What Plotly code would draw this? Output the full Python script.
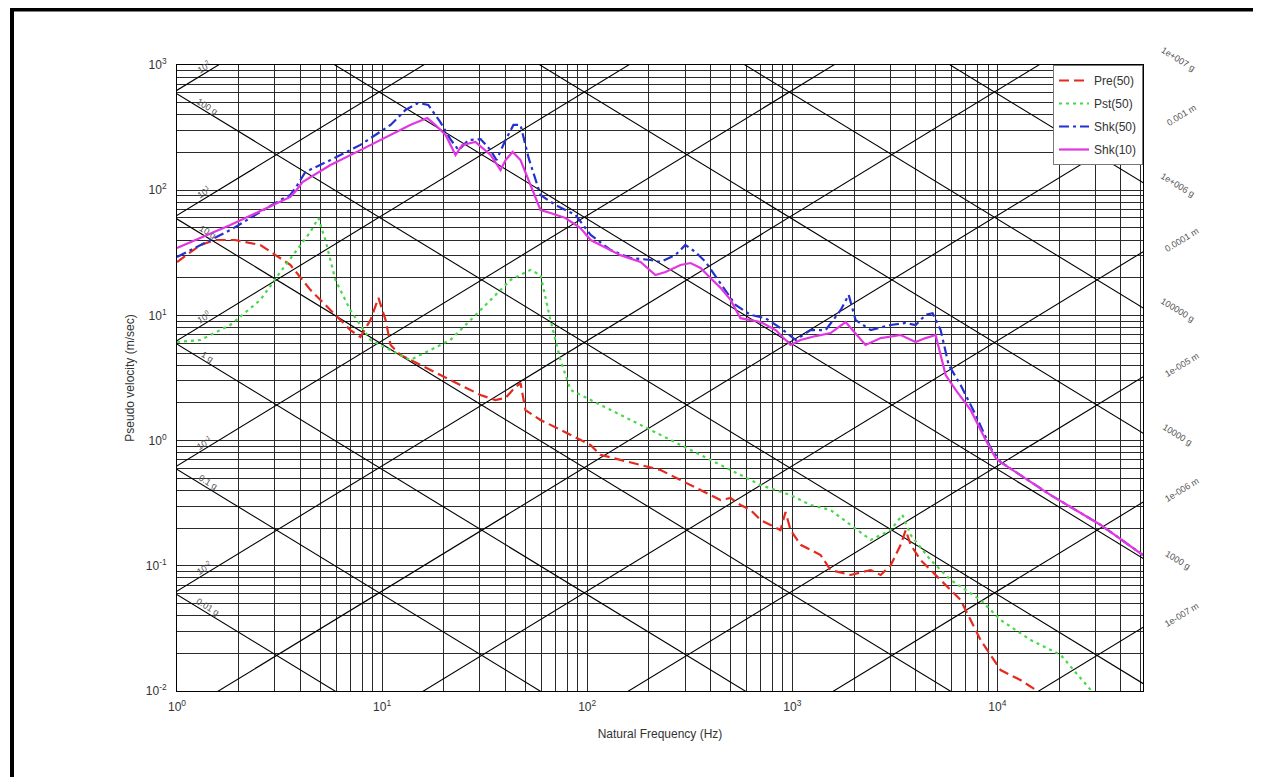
import numpy as np
import plotly.graph_objects as go

# ---------------- data ----------------
PRE_F = [1.0, 1.30, 1.54, 1.92, 2.55, 3.57, 4.47, 5.0, 6.26, 7.0, 7.84, 8.77, 9.6, 10.4, 11.0, 12.3,
         15.4, 19.2, 24.1, 30.2, 35.7, 40, 43.3, 47.3, 50, 59.2, 74.1, 92.7, 104, 116, 145, 182, 228,
         285, 357, 399, 447, 500, 559, 626, 700, 783, 876, 927, 981, 1097, 1374, 1537, 1924, 2411,
         2698, 3019, 3377, 3573, 3778, 4228, 5288, 6620, 8283, 9268, 10370, 13000, 15380]
PRE_V = [26.7, 36.5, 40, 40, 36.5, 25.3, 16.0, 13.3, 9.18, 7.64, 6.72, 9.18, 13.8, 9.18, 5.80, 4.83,
         4.02, 3.34, 2.78, 2.31, 2.11, 2.19, 2.54, 2.89, 1.75, 1.46, 1.22, 1.01, 0.92, 0.77, 0.70, 0.638,
         0.582, 0.484, 0.403, 0.367, 0.335, 0.348, 0.306, 0.279, 0.232, 0.212, 0.193, 0.269, 0.193,
         0.147, 0.122, 0.0925, 0.0845, 0.0925, 0.0845, 0.101, 0.147, 0.193, 0.147, 0.111, 0.0771,
         0.0533, 0.0255, 0.0194, 0.0147, 0.0122, 0.0102]

PST_F = [1.0, 1.30, 1.82, 2.55, 3.19, 4.0, 4.47, 4.89, 5.29, 5.92, 7.0, 8.77, 11.0, 13.7, 17.2, 21.5,
         27.0, 33.8, 42.3, 52.9, 59.2, 66.2, 74.1, 83, 104, 130, 163, 204, 255, 319, 399, 500, 700,
         981, 1228, 1537, 1924, 2411, 3019, 3443, 3778, 4729, 5918, 8283, 10370, 14550, 20370, 28500]
PST_V = [6.13, 6.36, 8.38, 13.3, 22.2, 36.5, 46.4, 60, 40, 19.2, 11.0, 6.36, 5.29, 4.40, 5.29, 6.36,
         9.18, 13.3, 19.2, 23.1, 21.0, 9.18, 4.40, 2.54, 2.11, 1.75, 1.46, 1.22, 1.01, 0.841, 0.70,
         0.582, 0.442, 0.367, 0.306, 0.279, 0.212, 0.161, 0.193, 0.255, 0.176, 0.111, 0.0771, 0.0533,
         0.0369, 0.0255, 0.0194, 0.0102]

SHK50_F = [1.0, 1.82, 3.19, 3.57, 3.86, 4.23, 5.6, 7.84, 11.0, 13.0, 15.0, 16.8, 19.2, 21.5, 23.6, 26.4,
           30.2, 33.8, 36.1, 40, 43.7, 47.3, 51.8, 59.2, 70.0, 87.7, 104, 130, 163, 204, 228, 269, 301,
           337, 378, 447, 529, 626, 740, 876, 1038, 1228, 1455, 1720, 1884, 2036, 2411, 3019, 3573,
           3993, 4467, 4833, 5288, 5786, 6620, 7836, 9268, 10370, 18200, 31900, 51200]
SHK50_V = [29.3, 48.1, 83.5, 91.6, 110, 140, 174, 230, 332, 437, 497, 480, 351, 256, 209, 252, 256, 209,
           174, 252, 332, 332, 181, 91.6, 76.2, 63.4, 43.9, 33.3, 28.7, 27.7, 26.7, 30.3, 36.5, 32.1,
           26.7, 18.2, 12.1, 10.1, 9.5, 7.93, 6.36, 7.64, 7.64, 11.0, 14.6, 9.18, 7.64, 8.38, 8.7, 8.38,
           10.1, 10.4, 7.64, 4.02, 2.78, 1.60, 0.873, 0.674, 0.367, 0.212, 0.122]

SHK10_F = [1.0, 1.82, 3.57, 3.82, 4.09, 5.6, 7.84, 11.0, 13.7, 16.6, 18.2, 20.4, 22.8, 24.6, 28.5, 33.8,
           37.8, 40, 43.3, 47.3, 52.9, 59.2, 66.2, 78.3, 92.7, 104, 116, 145, 182, 215, 241, 285, 319,
           357, 399, 447, 500, 559, 700, 830, 981, 1097, 1300, 1537, 1820, 1968, 2275, 2698, 3377, 3993,
           4467, 5000, 5594, 6260, 7413, 8770, 9814, 10370, 18200, 31900, 51200]
SHK10_V = [34.5, 52.7, 88.3, 100, 116, 159, 209, 276, 332, 377, 332, 276, 191, 230, 243, 191, 145, 174,
           202, 174, 110, 69.5, 65.8, 60, 49.9, 40, 36.5, 30.3, 26.7, 21.0, 22.2, 25.3, 26.2, 23.9, 19.9,
           16.6, 13.3, 9.5, 8.85, 7.64, 5.80, 6.36, 6.84, 7.23, 8.85, 7.64, 5.80, 6.59, 6.97, 6.13, 6.59,
           6.97, 3.34, 2.54, 1.75, 1.01, 0.726, 0.674, 0.367, 0.212, 0.122]

SERIES_NAMES = ["Pre(50)", "Pst(50)", "Shk(50)", "Shk(10)"]

X_TICKS = [1, 10, 100, 1000, 10000]
X_TICK_TEXT = ["10<sup>0</sup>", "10<sup>1</sup>", "10<sup>2</sup>", "10<sup>3</sup>", "10<sup>4</sup>"]
Y_TICKS = [0.01, 0.1, 1, 10, 100, 1000]
Y_TICK_TEXT = ["10<sup>-2</sup>", "10<sup>-1</sup>", "10<sup>0</sup>", "10<sup>1</sup>",
               "10<sup>2</sup>", "10<sup>3</sup>"]

# tripartite diagonals: constant displacement (m) and constant acceleration levels
DISP_EXP = [-7, -6, -5, -4, -3, -2, -1, 0, 1, 2]
ACC_EXP = [-2, -1, 0, 1, 2, 3, 4, 5, 6]
ACC_OFFSET = 0.77  # log10 offset of acceleration family

LEFT_DISP_LABELS = {2: "10<sup>2</sup>", 1: "10<sup>1</sup>", 0: "10<sup>0</sup>",
                    -1: "10<sup>-1</sup>", -2: "10<sup>-2</sup>"}
LEFT_ACC_LABELS = {2: "100 g", 1: "10 g", 0: "1 g", -1: "0.1 g", -2: "0.01 g"}
RIGHT_DISP_LABELS = {-3: "0.001 m", -4: "0.0001 m", -5: "1e-005 m", -6: "1e-006 m", -7: "1e-007 m"}
RIGHT_ACC_LABELS = {7: "1e+007 g", 6: "1e+006 g", 5: "100000 g", 4: "10000 g", 3: "1000 g"}

X_RANGE_LOG = [0, 4.71]
Y_RANGE_LOG = [-2, 3]

fig = go.Figure()

fline = np.array([0.3, 2e5])
for k in DISP_EXP:
    fig.add_trace(go.Scatter(x=fline, y=2 * np.pi * fline * 10.0 ** k, mode="lines",
                             line=dict(color="black", width=1.1), hoverinfo="skip", showlegend=False))
for m in ACC_EXP:
    fig.add_trace(go.Scatter(x=fline, y=10.0 ** (m + ACC_OFFSET) / fline, mode="lines",
                             line=dict(color="black", width=1.1), hoverinfo="skip", showlegend=False))

styles = [
    dict(color="#e42a1e", width=2.2, dash="10px,5px"),
    dict(color="#47d947", width=2.2, dash="3px,4px"),
    dict(color="#2431d0", width=2.2, dash="10px,4px,3px,4px"),
    dict(color="#e236e2", width=2.2),
]
data = [(PRE_F, PRE_V), (PST_F, PST_V), (SHK50_F, SHK50_V), (SHK10_F, SHK10_V)]
for i, ((fx, vy), name) in enumerate(zip(data, SERIES_NAMES)):
    fig.add_trace(go.Scatter(x=fx, y=vy, mode="lines", name=name, line=styles[i],
                             legendgroup=name))

grid_col = "#2a2a2a"
fig.update_xaxes(type="log", range=X_RANGE_LOG, tickmode="array", tickvals=X_TICKS,
                 ticktext=X_TICK_TEXT, showgrid=True, gridcolor=grid_col, gridwidth=1,
                 minor=dict(dtick="D1", showgrid=True, gridcolor=grid_col, gridwidth=1),
                 showline=True, linecolor="black", linewidth=1, mirror=True, ticks="",
                 ticklabelstandoff=5,
                 zeroline=False, tickfont=dict(size=12, color="#333"),
                 title=dict(text="Natural Frequency (Hz)", font=dict(size=12, color="#333"),
                            standoff=16))
fig.update_yaxes(type="log", range=Y_RANGE_LOG, tickmode="array", tickvals=Y_TICKS,
                 ticktext=Y_TICK_TEXT, showgrid=True, gridcolor=grid_col, gridwidth=1,
                 minor=dict(dtick="D1", showgrid=True, gridcolor=grid_col, gridwidth=1),
                 showline=True, linecolor="black", linewidth=1, mirror=True, ticks="",
                 ticklabelstandoff=7,
                 zeroline=False, tickfont=dict(size=12, color="#333"),
                 title=dict(text="Pseudo velocity (m/sec)", font=dict(size=12, color="#333"),
                            standoff=8))

ann = []
lab_font = dict(size=9, color="#555", family="Liberation Sans, Arial, sans-serif")
ang = 31.4
# left inner labels
xl = 0.13
for k, t in LEFT_DISP_LABELS.items():
    ann.append(dict(x=xl, y=xl + k + np.log10(2 * np.pi), xref="x", yref="y", text=t,
                    showarrow=False, textangle=-ang, font=lab_font, yshift=7,
                    xanchor="center", yanchor="middle"))
xl2 = 0.15
for m, t in LEFT_ACC_LABELS.items():
    ann.append(dict(x=xl2, y=-xl2 + m + ACC_OFFSET, xref="x", yref="y", text=t,
                    showarrow=False, textangle=ang, font=lab_font, yshift=6,
                    xanchor="center", yanchor="middle"))
# right outer labels
xr = 4.885
for k, t in RIGHT_DISP_LABELS.items():
    ann.append(dict(x=1.04, y=xr + k + np.log10(2 * np.pi), xref="paper", yref="y", text=t,
                    showarrow=False, textangle=-ang, font=lab_font, yshift=-10,
                    xanchor="center", yanchor="middle"))
for m, t in RIGHT_ACC_LABELS.items():
    ann.append(dict(x=1.036, y=-xr + m + ACC_OFFSET, xref="paper", yref="y", text=t,
                    showarrow=False, textangle=ang, font=lab_font, yshift=20,
                    xanchor="center", yanchor="middle"))

# page body has an 8px margin: figure spans 8..1261 x 8..777 in the window
fig.update_layout(
    width=1253, height=769,
    margin=dict(l=169, r=118, t=57, b=86),
    paper_bgcolor="white", plot_bgcolor="white",
    font=dict(family="Liberation Sans, Arial, sans-serif", color="#333"),
    annotations=ann,
    showlegend=True,
    legend=dict(x=1, y=1, xanchor="right", yanchor="top", bgcolor="white",
                bordercolor="#777", borderwidth=1, font=dict(size=12, color="#333"),
                tracegroupgap=4),
    shapes=[dict(type="rect", xref="paper", yref="paper", x0=-0.1708, x1=1.14, y0=-0.16,
                 y1=1.0887, line=dict(color="black", width=4), fillcolor="rgba(0,0,0,0)")],
)

fig.write_html("out.html")
